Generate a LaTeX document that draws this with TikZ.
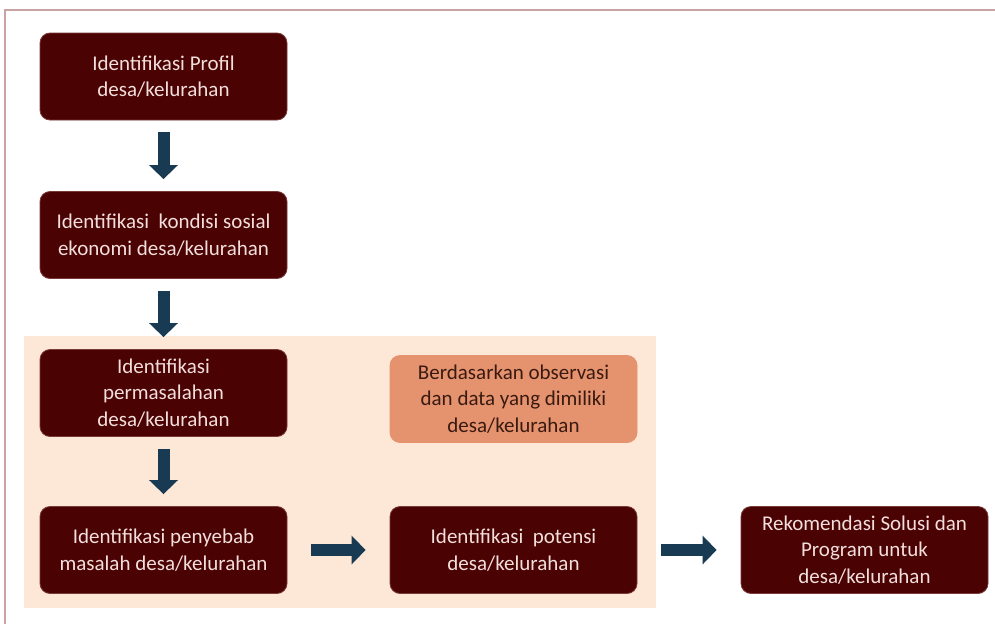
\documentclass[tikz,border=0pt]{standalone}
\usepackage{fontspec}
\setmainfont{Carlito}
\usetikzlibrary{arrows.meta}
\definecolor{maroon}{HTML}{4B0202}
\definecolor{maroonedge}{HTML}{7A3A3A}
\definecolor{boxtext}{HTML}{F2DEDC}
\definecolor{peach}{HTML}{FDE7D6}
\definecolor{orangebox}{HTML}{E5936E}
\definecolor{orangetext}{HTML}{3A1A10}
\definecolor{arrowblue}{HTML}{183A52}
\definecolor{framecol}{HTML}{C9A2A2}
\tikzset{
  darkbox/.style={draw=maroonedge, line width=0.8pt, fill=maroon, rounded corners=10pt,
    minimum width=247pt, minimum height=87pt, align=center, text=boxtext,
    font=\fontsize{21}{26.5}\selectfont, inner sep=0pt},
  notebox/.style={darkbox, draw=orangebox, fill=orangebox, text=orangetext},
  blockarrow/.style={draw=arrowblue, line width=12pt,
    -{Triangle[width=28pt,length=14pt]}},
}
\begin{document}
\begin{tikzpicture}[x=1pt,y=-1pt]
\useasboundingbox (0,0) rectangle (995,624);
\fill[white] (0,0) rectangle (995,624);
\draw[framecol, line width=2pt] (5,624) -- (5,10) -- (995,10);
\fill[peach] (24,336) rectangle (656,608);
\node[darkbox] (b1) at (163.5,76.5) {Identifikasi Profil\\desa/kelurahan};
\node[darkbox] (b2) at (163.5,235) {Identifikasi\ \ kondisi sosial\\ekonomi desa/kelurahan};
\node[darkbox] (b3) at (163.5,393) {Identifikasi\\permasalahan\\desa/kelurahan};
\node[darkbox] (b4) at (163.5,550) {Identifikasi penyebab\\masalah desa/kelurahan};
\node[notebox] (n1) at (513.5,399) {Berdasarkan observasi\\dan data yang dimiliki\\desa/kelurahan};
\node[darkbox] (b5) at (513.5,550) {Identifikasi\ \ potensi\\desa/kelurahan};
\node[darkbox] (b6) at (864.5,550) {Rekomendasi Solusi dan\\Program untuk\\desa/kelurahan};
\draw[blockarrow, shorten <=12pt, shorten >=12pt] (b1) -- (b2);
\draw[blockarrow, shorten <=12pt, shorten >=12pt] (b2) -- (b3);
\draw[blockarrow, shorten <=12pt, shorten >=12pt] (b3) -- (b4);
\draw[blockarrow, shorten <=24pt, shorten >=24pt] (b4) -- (b5);
\draw[blockarrow, shorten <=24pt, shorten >=24pt] (b5) -- (b6);
\end{tikzpicture}
\end{document}
